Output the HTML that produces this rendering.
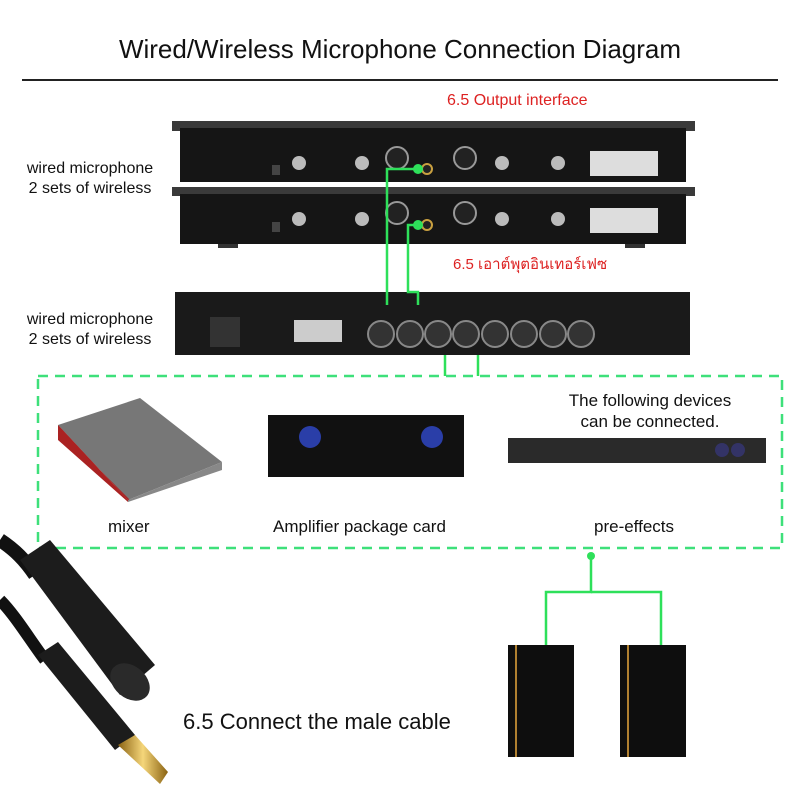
<!DOCTYPE html>
<html><head><style>
body{margin:0;width:800px;height:800px;background:#fff;overflow:hidden;position:relative;font-family:"Liberation Sans","Noto Sans CJK SC",sans-serif}
.t{position:absolute;white-space:nowrap}
</style></head><body>
<svg width="800" height="800" style="position:absolute;left:0;top:0">
<defs>
<linearGradient id="gold" x1="0" x2="1"><stop offset="0" stop-color="#8a6212"/><stop offset=".5" stop-color="#f5d67a"/><stop offset="1" stop-color="#8a6212"/></linearGradient>
</defs>
<line x1="22" y1="80" x2="778" y2="80" stroke="#222" stroke-width="2"/>
<rect x="172" y="121" width="523" height="10" fill="#3a3a3a"/>
<rect x="180" y="128" width="506" height="54" fill="#151515"/>
<rect x="172" y="187" width="523" height="9" fill="#3a3a3a"/>
<rect x="180" y="194" width="506" height="50" fill="#151515"/>
<rect x="218" y="244" width="20" height="4" fill="#333"/><rect x="625" y="244" width="20" height="4" fill="#333"/>
<g fill="#bbb">
<circle cx="299" cy="163" r="7"/><circle cx="362" cy="163" r="7"/><circle cx="502" cy="163" r="7"/><circle cx="558" cy="163" r="7"/>
<circle cx="299" cy="219" r="7"/><circle cx="362" cy="219" r="7"/><circle cx="502" cy="219" r="7"/><circle cx="558" cy="219" r="7"/>
</g>
<g fill="#222" stroke="#999" stroke-width="2">
<circle cx="397" cy="158" r="11"/><circle cx="465" cy="158" r="11"/><circle cx="397" cy="213" r="11"/><circle cx="465" cy="213" r="11"/>
</g>
<circle cx="427" cy="169" r="5" fill="#222" stroke="#c9a040" stroke-width="2"/>
<circle cx="427" cy="225" r="5" fill="#222" stroke="#c9a040" stroke-width="2"/>
<rect x="590" y="151" width="68" height="25" fill="#ddd"/><rect x="590" y="208" width="68" height="25" fill="#ddd"/>
<rect x="272" y="165" width="8" height="10" fill="#444"/><rect x="272" y="222" width="8" height="10" fill="#444"/>
<rect x="175" y="292" width="515" height="63" fill="#1a1a1a"/>
<rect x="210" y="317" width="30" height="30" fill="#333"/>
<rect x="294" y="320" width="48" height="22" fill="#ccc"/>
<g fill="#333" stroke="#888" stroke-width="2">
<circle cx="381" cy="334" r="13"/><circle cx="410" cy="334" r="13"/><circle cx="438" cy="334" r="13"/><circle cx="466" cy="334" r="13"/><circle cx="495" cy="334" r="13"/><circle cx="524" cy="334" r="13"/><circle cx="553" cy="334" r="13"/><circle cx="581" cy="334" r="13"/>
</g>
<g stroke="#2ee05a" stroke-width="2.5" fill="none">
<polyline points="418,169 387,169 387,305"/>
<polyline points="418,225 408,225 408,292 418,292 418,305"/>
<polyline points="445,355 445,376"/>
<polyline points="478,355 478,376"/>
<polyline points="591,556 591,592 546,592 546,645"/>
<polyline points="591,592 661,592 661,645"/>
</g>
<circle cx="418" cy="169" r="5" fill="#2ee05a"/><circle cx="418" cy="225" r="5" fill="#2ee05a"/><circle cx="591" cy="556" r="4" fill="#2ee05a"/>
<rect x="38" y="376" width="744" height="172" fill="none" stroke="#3ee07a" stroke-width="2.5" stroke-dasharray="10,7"/>
<!-- mixer -->
<polygon points="58,425 140,398 222,462 128,500" fill="#777"/>
<polygon points="58,425 128,500 128,502 58,440" fill="#a22"/>
<polygon points="58,425 128,500 130,500 62,432" fill="#a22"/>
<polygon points="128,500 222,462 222,470 128,502" fill="#888"/>
<!-- amp -->
<rect x="268" y="415" width="196" height="62" fill="#111"/>
<circle cx="310" cy="437" r="11" fill="#2a3ea8"/><circle cx="432" cy="437" r="11" fill="#2a3ea8"/>
<!-- effects -->
<rect x="508" y="438" width="258" height="25" fill="#2a2a2a"/>
<circle cx="722" cy="450" r="7" fill="#336"/><circle cx="738" cy="450" r="7" fill="#336"/>
<!-- speakers -->
<rect x="508" y="645" width="66" height="112" fill="#0e0e0e"/><rect x="515" y="645" width="2" height="112" fill="#b08030"/>
<rect x="620" y="645" width="66" height="112" fill="#0e0e0e"/><rect x="627" y="645" width="2" height="112" fill="#b08030"/>
<!-- cable -->
<path d="M0,540 C15,550 25,560 35,575" stroke="#111" stroke-width="14" fill="none"/>
<polygon points="20,560 50,540 155,665 120,695" fill="#1c1c1c"/>
<ellipse cx="130" cy="682" rx="22" ry="16" fill="#2a2a2a" transform="rotate(40 130 682)"/>
<path d="M0,600 C15,615 30,640 45,660" stroke="#111" stroke-width="12" fill="none"/>
<polygon points="38,655 58,642 135,735 115,750" fill="#1c1c1c"/>
<polygon points="118,745 135,735 168,772 160,784" fill="url(#gold)"/>
</svg>
<div class="t" style="left:0;width:800px;top:34px;text-align:center;font-size:26px;color:#111">Wired/Wireless Microphone Connection Diagram</div>
<div class="t" style="left:447px;top:92px;font-size:16px;color:#d22">6.5 Output interface</div>
<div class="t" style="left:0;width:180px;top:159px;text-align:center;font-size:16px;color:#111;line-height:20px">wired microphone<br>2 sets of wireless</div>
<div class="t" style="left:453px;top:252px;font-size:15px;color:#d22">6.5 เอาต์พุตอินเทอร์เฟซ</div>
<div class="t" style="left:0;width:180px;top:310px;text-align:center;font-size:16px;color:#111;line-height:20px">wired microphone<br>2 sets of wireless</div>
<div class="t" style="left:540px;top:390px;width:220px;text-align:center;font-size:17px;color:#111;line-height:21px">The following devices<br>can be connected.</div>
<div class="t" style="left:108px;top:517px;font-size:17px;color:#111">mixer</div>
<div class="t" style="left:273px;top:517px;font-size:17px;color:#111">Amplifier package card</div>
<div class="t" style="left:594px;top:517px;font-size:17px;color:#111">pre-effects</div>
<div class="t" style="left:183px;top:709px;font-size:22px;color:#111">6.5 Connect the male cable</div>
</body></html>
